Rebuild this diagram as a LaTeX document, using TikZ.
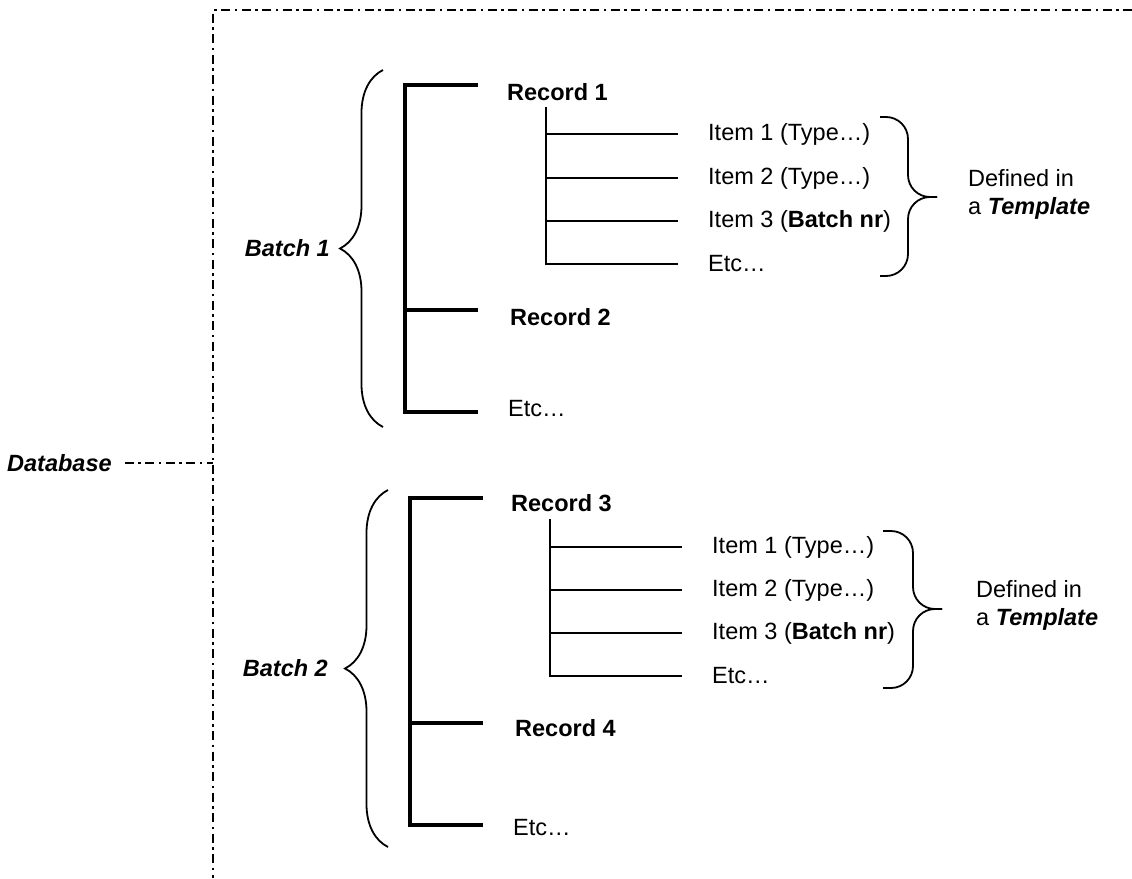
\documentclass[tikz,border=0pt]{standalone}
\usepackage{fontspec}
\setmainfont{Liberation Sans}
\usepackage{tikz}
\usetikzlibrary{decorations.pathreplacing}

\begin{document}
\begin{tikzpicture}[x=1pt, y=-1pt,
            txt/.style={inner sep=0pt, anchor=west, font=\fontsize{23.5}{28}\selectfont},
            head/.style={txt, font=\fontsize{23.5}{28}\selectfont\bfseries},
            tag/.style={txt, anchor=east, font=\fontsize{23.5}{28}\selectfont\bfseries\itshape},
            frame/.style={line width=2pt, dash pattern=on 9pt off 4.5pt on 2.5pt off 4.5pt},
            spine/.style={line width=3.5pt},
            twig/.style={line width=1.8pt, shorten >=30pt},
            lbrace/.style={line width=1.8pt, decorate, decoration={brace, amplitude=43pt}},
            rbrace/.style={line width=1.8pt, rounded corners=22pt}]
            \useasboundingbox (0,0) rectangle (1132,878);

            \coordinate (fr) at (1132,10);
            \coordinate (ftl) at (213,10);
            \coordinate (fb) at (213,878);
            \coordinate (fm) at (213,463);
            \draw[frame] (fr) -- (ftl) -- (fb);
            \node[tag, anchor=west] (db) at (7,463) {Database};
            \draw[frame, shorten <=13pt] (db.east) -- (fm);

            \node[tag] (b1) at (330,248) {Batch 1};
            \coordinate (b1u) at (383,70);
            \coordinate (b1d) at (383,427);
            \draw[lbrace] (b1d) -- (b1u);
            \coordinate (s11) at (405,85);
            \coordinate (s12) at (405,310);
            \coordinate (s13) at (405,412);
            \draw[spine] (s11) ++(73,0) -- (s11) -- (s13) -- ++(73,0);
            \draw[spine] (s12) -- ++(73,0);
            \node[head] (r1) at (507,92) {Record 1};
            \node[head] (r2) at (510,317) {Record 2};
            \node[txt] (e1) at (508,409) {Etc…};
            \coordinate (t1) at (546,107);
            \node[txt] (i11) at (708,134) {Item 1 (Type…)};
            \node[txt] (i12) at (708,178) {Item 2 (Type…)};
            \node[txt] (i13) at (708,221) {Item 3 (\textbf{Batch nr})};
            \node[txt] (i14) at (708,264) {Etc…};
            \draw[twig] (t1) |- (i14.west);
            \draw[twig] (i11 -| t1) -- (i11.west);
            \draw[twig] (i12 -| t1) -- (i12.west);
            \draw[twig] (i13 -| t1) -- (i13.west);
            \coordinate (c1u) at (880,117);
            \coordinate (c1d) at (880,276);
            \coordinate (c1t) at (937,197);
            \draw[rbrace] (c1u) -| ([xshift=-29pt]c1t) -- (c1t);
            \draw[rbrace] (c1d) -| ([xshift=-29pt]c1t) -- (c1t);
            \node[txt, align=left] (d1) at (968,194) {Defined in\\a \textbf{\textit{Template}}};

            \node[tag] (b2) at (328,668) {Batch 2};
            \coordinate (b2u) at (388,490);
            \coordinate (b2d) at (388,847);
            \draw[lbrace] (b2d) -- (b2u);
            \coordinate (s21) at (410,498);
            \coordinate (s22) at (410,723);
            \coordinate (s23) at (410,825);
            \draw[spine] (s21) ++(73,0) -- (s21) -- (s23) -- ++(73,0);
            \draw[spine] (s22) -- ++(73,0);
            \node[head] (r3) at (511,503) {Record 3};
            \node[head] (r4) at (515,728) {Record 4};
            \node[txt] (e2) at (513,828) {Etc…};
            \coordinate (t2) at (550,519);
            \node[txt] (i21) at (712,547) {Item 1 (Type…)};
            \node[txt] (i22) at (712,590) {Item 2 (Type…)};
            \node[txt] (i23) at (712,633) {Item 3 (\textbf{Batch nr})};
            \node[txt] (i24) at (712,676) {Etc…};
            \draw[twig] (t2) |- (i24.west);
            \draw[twig] (i21 -| t2) -- (i21.west);
            \draw[twig] (i22 -| t2) -- (i22.west);
            \draw[twig] (i23 -| t2) -- (i23.west);
            \coordinate (c2u) at (883,531);
            \coordinate (c2d) at (883,688);
            \coordinate (c2t) at (942,609);
            \draw[rbrace] (c2u) -| ([xshift=-29pt]c2t) -- (c2t);
            \draw[rbrace] (c2d) -| ([xshift=-29pt]c2t) -- (c2t);
            \node[txt, align=left] (d2) at (976,605) {Defined in\\a \textbf{\textit{Template}}};
\end{tikzpicture}
\end{document}
